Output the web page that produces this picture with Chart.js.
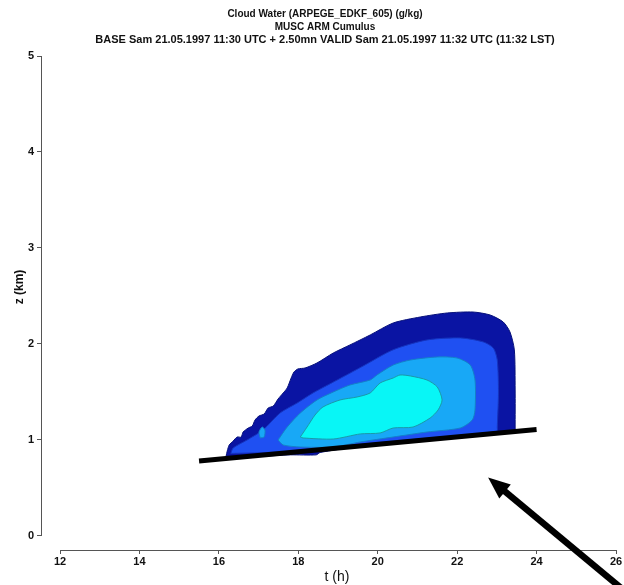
<!DOCTYPE html>
<html>
<head>
<meta charset="utf-8">
<script src="https://cdn.jsdelivr.net/npm/chart.js@4"></script>
<style>
  html, body { margin: 0; padding: 0; background: #fff; }
  #box { width: 624px; height: 585px; position: relative; }
</style>
</head>
<body>
<div id="box"><canvas id="cv"></canvas></div>
<script>
// axes
const X_TICKS = [12, 14, 16, 18, 20, 22, 24, 26];
const Y_TICKS = [0, 1, 2, 3, 4, 5];

const TITLE_LINES = [
  "Cloud Water (ARPEGE_EDKF_605) (g/kg)",
  "MUSC ARM Cumulus",
  "BASE Sam 21.05.1997 11:30 UTC + 2.50mn VALID Sam 21.05.1997 11:32 UTC (11:32 LST)",
];

// filled contour outlines, [t (h), z (km)]
const qcLevel1 = [
  [16.18, 0.83], [16.21, 0.885], [16.26, 0.948], [16.36, 0.99], [16.46, 1.031],
  [16.56, 1.03], [16.61, 1.083], [16.74, 1.125], [16.84, 1.146], [16.91, 1.208],
  [17.01, 1.25], [17.14, 1.271], [17.24, 1.333], [17.37, 1.354], [17.49, 1.427],
  [17.62, 1.49], [17.72, 1.542], [17.82, 1.646], [17.89, 1.708], [17.99, 1.74],
  [18.17, 1.75], [18.47, 1.802], [18.88, 1.906], [19.3, 1.99], [19.81, 2.094],
  [20.39, 2.219], [21.07, 2.281], [21.75, 2.323], [22.4, 2.333], [22.83, 2.302],
  [23.16, 2.229], [23.33, 2.125], [23.44, 1.938], [23.46, 1.521], [23.46, 1.125],
  [23.46, 1.09], [21.0, 0.99], [19.5, 0.93], [18.55, 0.87], [18.45, 0.845],
  [17.8, 0.845], [17.0, 0.83], [16.18, 0.83],
];
const qcLevel2 = [
  [16.3, 0.86], [16.36, 0.917], [16.71, 1.0], [17.11, 1.104], [17.54, 1.281],
  [17.97, 1.385], [18.37, 1.49], [18.98, 1.625], [19.63, 1.77], [20.39, 1.94],
  [21.24, 2.042], [22.08, 2.063], [22.66, 2.021], [22.91, 1.958], [23.01, 1.833],
  [23.04, 1.5], [23.01, 1.135], [23.0, 1.09], [21.0, 1.01], [19.0, 0.935],
  [17.5, 0.875], [16.3, 0.86],
];
const qcLevel3 = [
  [17.49, 1.0], [17.72, 1.135], [18.05, 1.281], [18.47, 1.417], [18.88, 1.5],
  [19.3, 1.573], [19.81, 1.625], [19.98, 1.677], [20.39, 1.781], [20.82, 1.833],
  [21.5, 1.865], [22.0, 1.854], [22.33, 1.781], [22.45, 1.625], [22.45, 1.313],
  [22.38, 1.208], [22.08, 1.125], [21.24, 1.083], [20.39, 1.031], [19.56, 0.979],
  [18.88, 0.927], [18.05, 0.927], [17.62, 0.948], [17.49, 1.0],
];
const qcLevel3Island = [
  [17.04, 1.021], [17.01, 1.083], [17.09, 1.135], [17.16, 1.104], [17.14, 1.031], [17.04, 1.021],
];
const qcLevel4 = [
  [18.05, 1.031], [18.22, 1.135], [18.42, 1.26], [18.62, 1.344], [19.05, 1.417],
  [19.48, 1.448], [19.81, 1.49], [20.06, 1.594], [20.39, 1.646], [20.56, 1.677],
  [20.82, 1.667], [21.24, 1.625], [21.5, 1.552], [21.62, 1.417], [21.52, 1.313],
  [21.32, 1.229], [20.89, 1.135], [20.39, 1.125], [20.06, 1.073], [19.56, 1.063],
  [18.88, 1.01], [18.12, 1.021], [18.05, 1.031],
];

// cloud base line and pointer arrow
const baseLineT = [15.5, 24.0];
const baseLineZ = [0.78, 1.11];
const arrowFrom = [26.5, -0.67];
const arrowTo = [22.78, 0.61];

const toPts = arr => arr.map(([t, z]) => ({ x: t, y: z }));

const contour = (pts, fillCol, edgeCol, order) => ({
  data: toPts(pts),
  showLine: true,
  fill: "shape",
  backgroundColor: fillCol,
  borderColor: edgeCol,
  borderWidth: 1,
  pointRadius: 0,
  tension: 0.25,
  order: order,
});

const FONT = "'Liberation Sans', Arial, sans-serif";
const titleSizes = [10, 10, 11];

const frame = {
  id: "frame",
  afterDraw(chart) {
    const { ctx, scales: { x, y } } = chart;
    ctx.save();
    // detached axis lines
    ctx.strokeStyle = "#555";
    ctx.lineWidth = 1;
    ctx.beginPath();
    const ax = Math.round(y.right) + 0.5;
    ctx.moveTo(ax, y.getPixelForValue(Y_TICKS[0]));
    ctx.lineTo(ax, y.getPixelForValue(Y_TICKS[Y_TICKS.length - 1]));
    const ay = Math.round(x.top) + 0.5;
    ctx.moveTo(x.getPixelForValue(X_TICKS[0]), ay);
    ctx.lineTo(x.getPixelForValue(X_TICKS[X_TICKS.length - 1]), ay);
    ctx.stroke();

    // titles
    ctx.fillStyle = "#111";
    ctx.textAlign = "center";
    ctx.textBaseline = "middle";
    TITLE_LINES.forEach((s, i) => {
      ctx.font = `bold ${titleSizes[i]}px ${FONT}`;
      ctx.fillText(s, 325, 14 + i * 13);
    });

    ctx.font = `14px ${FONT}`;
    ctx.fillText("t (h)", 337, 577);

    ctx.save();
    ctx.translate(20, 287);
    ctx.rotate(-Math.PI / 2);
    ctx.font = `bold 12px ${FONT}`;
    ctx.fillText("z (km)", 0, 0);
    ctx.restore();

    // arrow
    const x0 = x.getPixelForValue(arrowFrom[0]), y0 = y.getPixelForValue(arrowFrom[1]);
    const x1 = x.getPixelForValue(arrowTo[0]), y1 = y.getPixelForValue(arrowTo[1]);
    const ang = Math.atan2(y1 - y0, x1 - x0);
    const head = 22, half = 9;
    const bx = x1 - head * Math.cos(ang), by = y1 - head * Math.sin(ang);
    ctx.strokeStyle = "#000";
    ctx.fillStyle = "#000";
    ctx.lineWidth = 6.5;
    ctx.beginPath();
    ctx.moveTo(x0, y0);
    ctx.lineTo(bx + 2 * Math.cos(ang), by + 2 * Math.sin(ang));
    ctx.stroke();
    ctx.beginPath();
    ctx.moveTo(x1, y1);
    ctx.lineTo(bx + half * Math.sin(ang), by - half * Math.cos(ang));
    ctx.lineTo(bx - half * Math.sin(ang), by + half * Math.cos(ang));
    ctx.closePath();
    ctx.fill();
    ctx.restore();
  },
};

const tickFont = { family: FONT, size: 11, weight: "bold" };

new Chart(document.getElementById("cv"), {
  type: "scatter",
  data: {
    datasets: [
      contour(qcLevel1, "#0a14a3", "#06107a", 5),
      contour(qcLevel2, "#1f50f2", "#1535c0", 4),
      contour(qcLevel3, "#18a8f6", "#1480c8", 3),
      contour(qcLevel3Island, "#18a8f6", "#1480c8", 3),
      contour(qcLevel4, "#08f6f6", "#1a9aa8", 2),
      {
        data: baseLineT.map((t, i) => ({ x: t, y: baseLineZ[i] })),
        showLine: true,
        fill: false,
        borderColor: "#000",
        borderWidth: 5,
        borderCapStyle: "butt",
        pointRadius: 0,
        clip: false,
        order: 1,
      },
    ],
  },
  options: {
    responsive: true,
    maintainAspectRatio: false,
    animation: false,
    events: [],
    layout: { padding: { top: 56, right: 8, left: 0, bottom: 0 } },
    plugins: { legend: { display: false }, tooltip: { enabled: false } },
    scales: {
      x: {
        type: "linear",
        min: 11.52,
        max: 26,
        afterBuildTicks: s => { s.ticks = X_TICKS.map(v => ({ value: v })); },
        afterFit: s => { s.height = 35; },
        border: { display: false },
        grid: { drawOnChartArea: false, drawTicks: true, tickLength: 4, color: "#555" },
        ticks: { font: tickFont, color: "#111", padding: 1, maxRotation: 0 },
      },
      y: {
        type: "linear",
        min: -0.146,
        max: 5,
        afterBuildTicks: s => { s.ticks = Y_TICKS.map(v => ({ value: v })); },
        afterFit: s => { s.width = 41; },
        border: { display: false },
        grid: { drawOnChartArea: false, drawTicks: true, tickLength: 4, color: "#555" },
        ticks: { font: tickFont, color: "#111", padding: 3 },
      },
    },
  },
  plugins: [frame],
});
</script>
</body>
</html>
